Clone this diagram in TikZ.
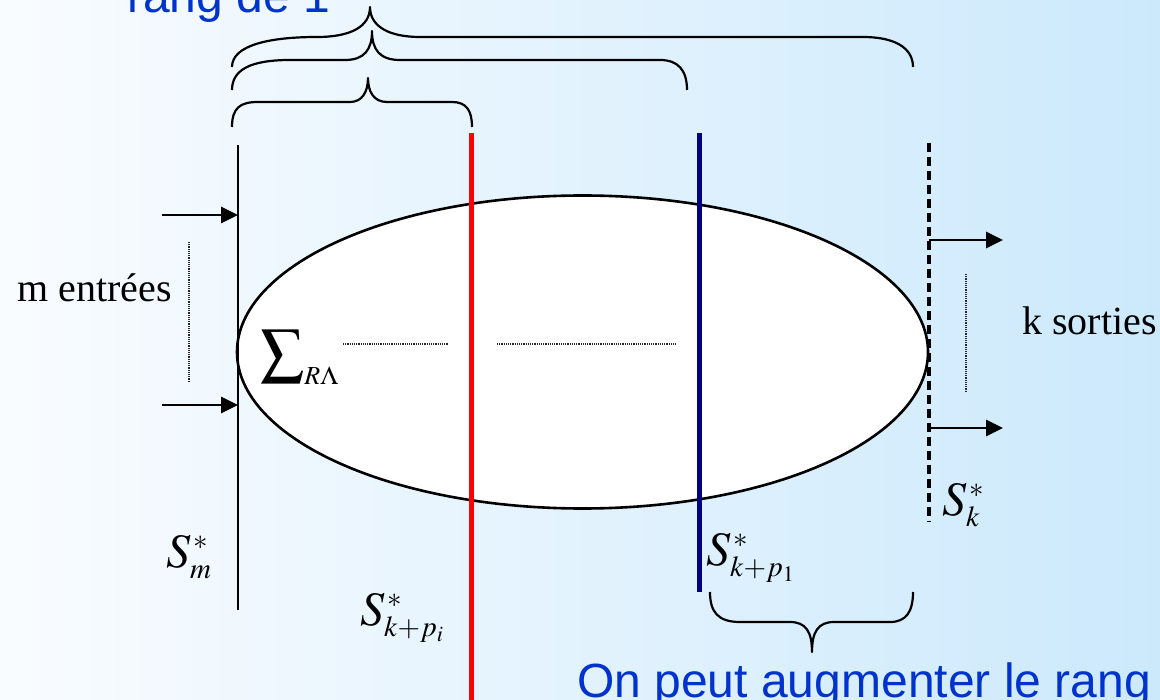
\documentclass[tikz,border=0pt]{standalone}
\usepackage{mathptmx}
\usepackage[no-math]{fontspec}
\setmainfont{Liberation Serif}
\newfontfamily\arialfont{Liberation Sans}
\DeclareMathSizes{48}{48}{29}{22}
\DeclareMathSizes{62}{62}{37}{26}
\usepackage{tikz}
\usetikzlibrary{arrows.meta,shapes.geometric}
\definecolor{bgleft}{RGB}{249,252,255}
\definecolor{bgright}{RGB}{204,233,252}
\definecolor{rangblue}{RGB}{0,51,204}
\definecolor{navycut}{RGB}{0,0,128}

\begin{document}
\begin{tikzpicture}[x=1pt,y=-1pt,every node/.style={inner sep=0pt},
 txt/.style={font=\fontsize{40}{48}\selectfont,anchor=base west},
 bluetxt/.style={font=\arialfont\fontsize{48}{56}\selectfont,text=rangblue,anchor=base west},
 lbl/.style={font=\fontsize{48}{56}\selectfont,anchor=base west},
 brace/.style={line width=2.2pt,line join=round},
 dots/.style={densely dotted,line width=1.2pt,black!85},
 arrow/.style={-{Triangle[length=17pt,width=16pt]},line width=2.8pt}]
\useasboundingbox (0,0) rectangle (1160,700);
\shade[left color=bgleft,right color=bgright] (0,0) rectangle (1160,700);
\node[draw,ellipse,fill=white,line width=2.6pt,minimum width=691pt,minimum height=313pt] (sys) at (582.5,352) {};
% cuts
\coordinate (mTop) at (238,145); \coordinate (mBot) at (238,610);
\coordinate (piTop) at (471,133); \coordinate (piBot) at (471,700);
\coordinate (poneTop) at (699,133); \coordinate (poneBot) at (699,592);
\coordinate (kTop) at (929,143); \coordinate (kBot) at (929,522);
\draw[line width=2.6pt] (mTop) -- (mBot);
\draw[line width=5pt,red] (piTop) -- (piBot);
\draw[line width=5pt,navycut] (poneTop) -- (poneBot);
\draw[line width=3.2pt,dash pattern=on 9pt off 5pt] (kTop) -- (kBot);
% inputs and outputs
\coordinate (inA) at (162,215); \coordinate (inB) at (162,405);
\coordinate (outA) at (1003,240); \coordinate (outB) at (1003,428);
\draw[arrow] (inA) -- (inA -| mTop);
\draw[arrow] (inB) -- (inB -| mTop);
\draw[arrow] (outA -| kTop) -- (outA);
\draw[arrow] (outB -| kTop) -- (outB);
\draw[dots] (189,242) -- (189,382);
\draw[dots] (966,274) -- (966,391);
\draw[dots] (343,344) -- (448,344);
\draw[dots] (497,344) -- (677,344);
\node[txt] (inLabel) at (17,302) {m entrées};
\node[txt] (outLabel) at (1022,335) {k sorties};
\node[lbl,font=\fontsize{62}{70}\selectfont] (sumR) at (260,372) {$\sum_{\scriptscriptstyle R\Lambda}$};
\node[lbl] (Sm) at (166,567) {$S^{\,*}_m$};
\node[lbl] (Spi) at (360,625) {$S^{\,*}_{k+p_i}$};
\node[lbl] (Spone) at (706,565) {$S^{\,*}_{k+p_1}$};
\node[lbl] (Sk) at (942,515) {$S^{\,*}_k$};
% braces
\draw[brace] (232,127) .. controls (232,108) and (240,102) .. (258,102) -- (350,102)
  .. controls (362,102) and (368,92) .. (368,78) .. controls (368,92) and (374,102) .. (387,102)
  -- (452,102) .. controls (466,102) and (472,110) .. (472,127);
\draw[brace] (232,90) .. controls (232,70) and (250,60) .. (290,60) -- (345,60)
  .. controls (364,60) and (372,50) .. (372,31) .. controls (372,50) and (380,60) .. (400,60)
  -- (660,60) .. controls (678,60) and (687,70) .. (687,90);
\draw[brace] (232,67) .. controls (232,45) and (270,37) .. (317,37)
  .. controls (350,37) and (370,27) .. (370,7) .. controls (370,27) and (390,37) .. (420,37)
  -- (863,37) .. controls (895,37) and (913,48) .. (913,67);
\draw[brace] (710,592) .. controls (710,612) and (718,622) .. (740,622) -- (790,622)
  .. controls (806,622) and (812,632) .. (812,652) .. controls (812,632) and (818,622) .. (834,622)
  -- (890,622) .. controls (906,622) and (913,612) .. (913,592);
\node[bluetxt] (rangUn) at (127,13) {rang de 1};
\node[bluetxt] (augm) at (577,697) {On peut augmenter le rang};
\end{tikzpicture}
\end{document}
